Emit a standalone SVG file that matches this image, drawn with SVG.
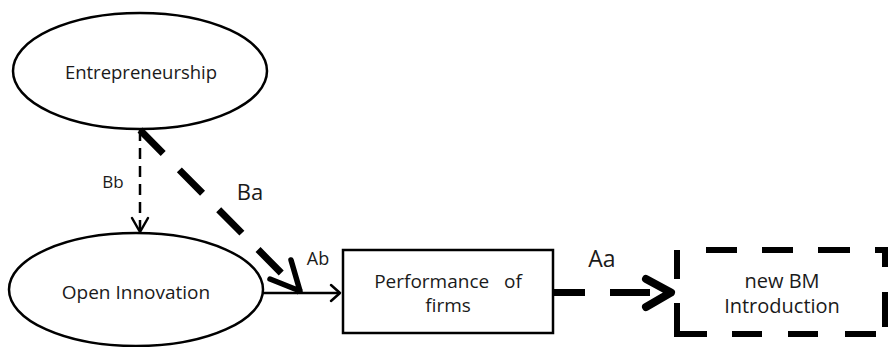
<svg xmlns="http://www.w3.org/2000/svg" width="889" height="347" viewBox="0 0 889 347">
  <style>
    .node { fill: #ffffff; stroke: #000000; stroke-width: 2.5; }
    .label { font-family: "Open Sans", "Noto Sans", "Liberation Sans", sans-serif; fill: #1a1a1a; text-anchor: middle; }
    .thin { fill: none; stroke: #000000; stroke-width: 2.5; }
    .thick { fill: none; stroke: #000000; stroke-width: 7; }
    .head { fill: none; stroke: #000000; stroke-linecap: round; stroke-linejoin: round; }
    .boxdash { fill: none; stroke: #000000; stroke-width: 6; stroke-linejoin: miter; }
  </style>

  <rect width="889" height="347" fill="#ffffff"/>

  <!-- Entrepreneurship -->
  <g id="entrepreneurship">
    <ellipse class="node" cx="140" cy="71" rx="127" ry="58"/>
    <text class="label" x="141" y="79" font-size="18.5">Entrepreneurship</text>
  </g>

  <!-- Open Innovation -->
  <g id="open-innovation">
    <ellipse class="node" cx="136" cy="289.5" rx="127" ry="56.5"/>
    <text class="label" x="136" y="299" font-size="19">Open Innovation</text>
  </g>

  <!-- Performance of firms -->
  <g id="performance">
    <rect class="node" x="343" y="250" width="210" height="83"/>
    <text class="label" x="448" y="288" font-size="19" xml:space="preserve">Performance   of</text>
    <text class="label" x="448" y="312" font-size="19">firms</text>
  </g>

  <!-- new BM Introduction (heavy dashed frame) -->
  <g id="new-bm">
    <path class="boxdash" d="M677,250 V279 M677,303 V334 H707 M706,250 H737 M762,250 H793 M818,250 H850 M875,250 H885 V267 M885,292 V327 M732,334 H762 M788,334 H818 M845,334 H876"/>
    <text class="label" x="782" y="288" font-size="20">new BM</text>
    <text class="label" x="782" y="313" font-size="20">Introduction</text>
  </g>

  <!-- Connectors -->
  <g id="connectors">
    <!-- Bb: Entrepreneurship to Open Innovation -->
    <path class="thin" d="M140,130 V231" stroke-dasharray="11 7"/>
    <path class="head" stroke-width="2.5" d="M132,218 L140,232 L148,218"/>
    <text class="label" x="113" y="188" font-size="17">Bb</text>

    <!-- Ba: Entrepreneurship to the Ab link -->
    <path class="thick" d="M140,130 L300,292" stroke-dasharray="33 23"/>
    <path class="head" stroke-width="5.5" d="M291,260 L300,291 L270,279"/>
    <text class="label" x="250" y="200" font-size="22">Ba</text>

    <!-- Ab: Open Innovation to Performance -->
    <path class="thin" d="M263,293 H339"/>
    <path class="head" stroke-width="2.5" d="M331,285 L340,293 L331,301"/>
    <text class="label" x="318" y="265" font-size="18">Ab</text>

    <!-- Aa: Performance to new BM -->
    <path class="thick" d="M553,292.5 H585 M610,292.5 H650"/>
    <path class="head" stroke-width="8" d="M646,279 L671,292.5 L646,307"/>
    <text class="label" x="602" y="267" font-size="23">Aa</text>
  </g>
</svg>
